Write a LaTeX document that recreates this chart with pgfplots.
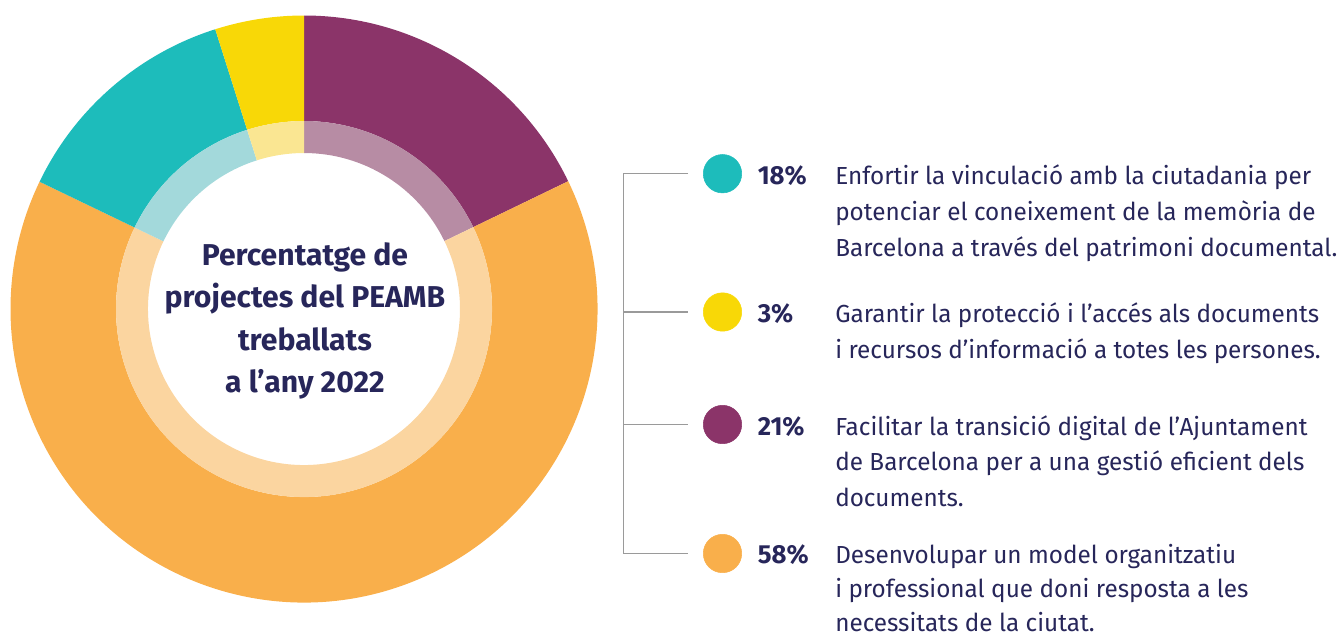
\documentclass[border=0pt]{standalone}
\usepackage{fontspec}
\setmainfont{Fira Sans}[FakeStretch=0.985]
\newfontfamily\titlefont{Fira Sans}
\usepackage{pgfplots}
\usepackage{pgfplotstable}
\pgfplotsset{compat=1.18}

\definecolor{cpurple}{HTML}{8B3469}
\definecolor{cpurpleL}{HTML}{B78CA4}
\definecolor{corange}{HTML}{F9AF4B}
\definecolor{corangeL}{HTML}{FBD5A0}
\definecolor{cteal}{HTML}{1DBCBB}
\definecolor{ctealL}{HTML}{A3D9DB}
\definecolor{cyellow}{HTML}{F8D807}
\definecolor{cyellowL}{HTML}{FAE692}
\definecolor{ctext}{HTML}{27265A}
\definecolor{cline}{HTML}{9A9A9A}

% donut segments, clockwise from 12 o'clock, share of the full circle (%)
\pgfplotstableread{
seg      pct
cpurple  17.83
corange  64.31
cteal    12.97
cyellow  4.89
}\donut

% legend markers
\pgfplotstableread{
x     y      c
722.5 173.7  cteal
722.5 312.0  cyellow
722.5 424.5  cpurple
722.5 553.5  corange
}\legmarks

\begin{document}
\begin{tikzpicture}
\begin{axis}[
  width=1004.25pt, height=477.75pt, scale only axis,
  xmin=0, xmax=1339, ymin=0, ymax=637, y dir=reverse,
  hide axis, clip=false]

\xdef\cumangle{90}
\pgfplotsforeachungrouped \i in {0,...,3}{%
  \pgfplotstablegetelem{\i}{pct}\of\donut \let\segp=\pgfplotsretval
  \pgfplotstablegetelem{\i}{seg}\of\donut \let\segc=\pgfplotsretval
  \pgfmathsetmacro{\angA}{\cumangle}%
  \pgfmathsetmacro{\angB}{\cumangle-3.6*\segp}%
  \xdef\cumangle{\angB}%
  \edef\temp{\noexpand\fill[\segc]
     (axis cs:{304+293.5*cos(\angA)},{309-293.5*sin(\angA)})
     arc[start angle=\angA, end angle=\angB, radius=220.125pt]
     -- (axis cs:{304+188*cos(\angB)},{309-188*sin(\angB)})
     arc[start angle=\angB, end angle=\angA, radius=141pt] -- cycle;
     \noexpand\fill[\segc L]
     (axis cs:{304+188*cos(\angA)},{309-188*sin(\angA)})
     arc[start angle=\angA, end angle=\angB, radius=141pt]
     -- (axis cs:{304+156*cos(\angB)},{309-156*sin(\angB)})
     arc[start angle=\angB, end angle=\angA, radius=117pt] -- cycle;}%
  \temp
}

% title in the centre
\begin{scope}[every node/.style={anchor=base, inner sep=0pt, text=ctext,
   font=\titlefont\bfseries\fontsize{22.6pt}{26pt}\selectfont}]
\node at (axis cs:305,265) {Percentatge de};
\node at (axis cs:305,307.5) {projectes del PEAMB};
\node at (axis cs:305,350) {treballats};
\node at (axis cs:305,392.5) {a l’any 2022};
\end{scope}

% bracket
\addplot[cline, line width=1.1pt] coordinates {(688,173.7) (623.5,173.7) (623.5,553.5) (688,553.5)};
\addplot[cline, line width=1.1pt] coordinates {(623.5,312.0) (688,312.0)};
\addplot[cline, line width=1.1pt] coordinates {(623.5,424.5) (688,424.5)};

% legend markers
\pgfplotsforeachungrouped \i in {0,...,3}{%
  \pgfplotstablegetelem{\i}{c}\of\legmarks \let\mc=\pgfplotsretval
  \edef\temp{\noexpand\addplot[only marks, mark=*, mark size=14.4pt,
     color=\mc] table[x=x, y=y, skip coords between index={0}{\i},
     skip coords between index={\the\numexpr\i+1\relax}{4}] {\noexpand\legmarks};}%
  \temp
}

% legend texts
\begin{scope}[every node/.style={anchor=base west, inner sep=0pt, text=ctext,
   font=\fontsize{18.5pt}{22pt}\selectfont}]
\node[font=\bfseries\fontsize{19.6pt}{22pt}\selectfont] at (axis cs:757.5,184.3) {18\%};
\node at (axis cs:835,184.3) {Enfortir la vinculació amb la ciutadania per};
\node at (axis cs:835,220.1) {potenciar el coneixement de la memòria de};
\node at (axis cs:835,256.0) {Barcelona a través del patrimoni documental.};

\node[font=\bfseries\fontsize{19.6pt}{22pt}\selectfont] at (axis cs:757.5,322.8) {3\%};
\node at (axis cs:835,322.8) {Garantir la protecció i l’accés als documents};
\node at (axis cs:835,358.5) {i recursos d’informació a totes les persones.};

\node[font=\bfseries\fontsize{19.6pt}{22pt}\selectfont] at (axis cs:757.5,435.2) {21\%};
\node at (axis cs:835,435.2) {Facilitar la transició digital de l’Ajuntament};
\node at (axis cs:835,470.8) {de Barcelona per a una gestió eficient dels};
\node at (axis cs:835,506.4) {documents.};

\node[font=\bfseries\fontsize{19.6pt}{22pt}\selectfont] at (axis cs:757.5,563.2) {58\%};
\node at (axis cs:835,563.2) {Desenvolupar un model organitzatiu};
\node at (axis cs:835,597.4) {i professional que doni resposta a les};
\node at (axis cs:835,631.3) {necessitats de la ciutat.};
\end{scope}
\end{axis}
\pgfresetboundingbox
\path (current axis.south west) rectangle (current axis.north east);
\end{tikzpicture}
\end{document}
